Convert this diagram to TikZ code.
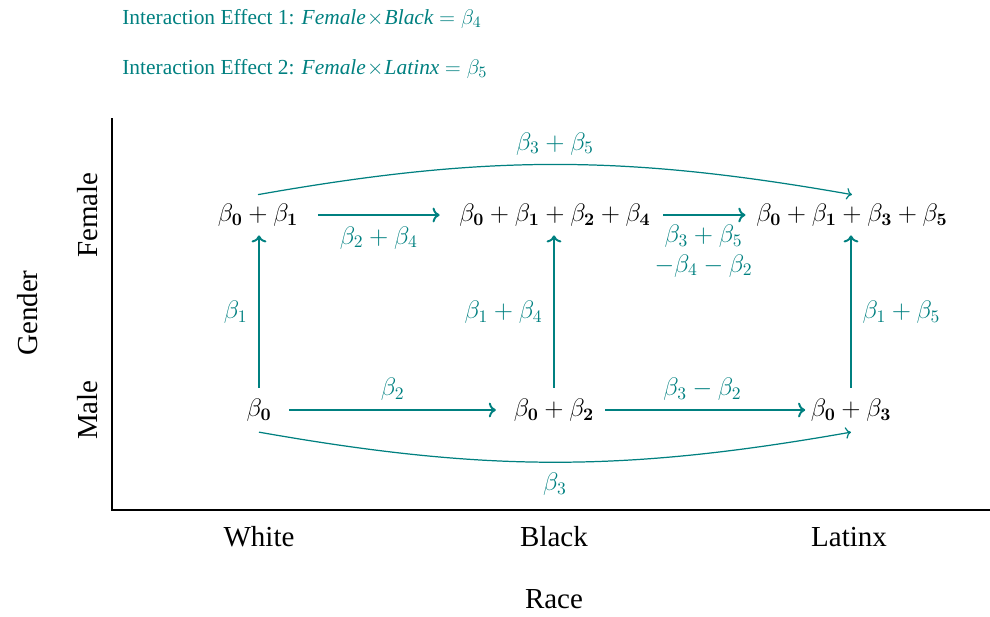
\documentclass[tikz,border=0pt]{standalone}
\usepackage[no-math]{fontspec}
\setmainfont{Liberation Serif}
\usepackage{amsmath}
\usetikzlibrary{arrows.meta}
\newcommand{\bcoef}[1]{\beta_{\mathbf{#1}}}

\begin{document}
\begin{tikzpicture}[x=0.02cm,y=-0.02cm,cell/.style={font=\fontsize{14}{16}\selectfont,inner sep=2pt},lbl/.style={text=teal,font=\fontsize{14.4}{17}\selectfont,inner sep=2pt},axlbl/.style={font=\fontsize{16.5}{19}\selectfont},hdr/.style={text=teal,font=\fontsize{12.2}{14}\selectfont,anchor=base west,inner sep=0pt},arr/.style={->,teal,line width=1.1pt},curv/.style={->,teal,line width=0.7pt}]
\useasboundingbox (0,0) rectangle (990,616);
% effect notes
\node[hdr] (note1) at (122,24) {Interaction Effect 1: \textit{Female}$\mkern1mu\times\mkern1mu$\textit{Black} $=\beta_4$};
\node[hdr] (note2) at (122,74) {Interaction Effect 2: \textit{Female}$\mkern1mu\times\mkern1mu$\textit{Latinx} $=\beta_5$};
% axes
\coordinate (ytop) at (112,118);
\coordinate (origin) at (112,510);
\coordinate (xend) at (990,510);
\draw[line width=0.6pt] (ytop)--(origin)--(xend);
\node[axlbl,rotate=90] (female) at (88,215) {Female};
\node[axlbl,rotate=90] (male) at (88,410) {Male};
\node[axlbl,rotate=90] (gender) at (28,313) {Gender};
\node[axlbl] (white) at (259,537) {White};
\node[axlbl] (black) at (554,537) {Black};
\node[axlbl] (latinx) at (849,537) {Latinx};
\node[axlbl] (race) at (554,599) {Race};
% cells
\node[cell] (fw) at (258,215) {$\bcoef0+\bcoef1$};
\node[cell] (fb) at (555,215) {$\bcoef0+\bcoef1+\bcoef2+\bcoef4$};
\node[cell] (fl) at (852,215) {$\bcoef0+\bcoef1+\bcoef3+\bcoef5$};
\node[cell] (mw) at (259,410) {$\bcoef0$};
\node[cell] (mb) at (554,410) {$\bcoef0+\bcoef2$};
\node[cell] (ml) at (851,410) {$\bcoef0+\bcoef3$};
% changes
\draw[arr,shorten <=9pt,shorten >=9pt] (fw)--(fb) node[midway,below=4pt,lbl] {$\beta_2+\beta_4$};
\draw[arr,shorten <=5pt,shorten >=4pt] (fb)--(fl) node[midway,below=3pt,lbl,align=center] {$\beta_3+\beta_5$\\[0pt]$-\beta_4-\beta_2$};
\draw[arr,shorten <=8pt,shorten >=8pt] (mw)--(mb) node[midway,above=3pt,lbl] {$\beta_2$};
\draw[arr,shorten <=4pt,shorten >=1pt] (mb)--(ml) node[midway,above=3pt,lbl] {$\beta_3-\beta_2$};
\draw[arr,shorten <=4pt,shorten >=3pt] (mw.north)--(mw.north|-fw.south) node[midway,left=4pt,lbl] {$\beta_1$};
\draw[arr,shorten <=4pt,shorten >=3pt] (mb.north)--(mb.north|-fb.south) node[midway,left=4pt,lbl] {$\beta_1+\beta_4$};
\draw[arr,shorten <=4pt,shorten >=3pt] (ml.north)--(ml.north|-fl.south) node[midway,right=4pt,lbl] {$\beta_1+\beta_5$};
\draw[curv] ([yshift=3pt]fw.north)to[bend left=10] node[midway,above=3pt,lbl] {$\beta_3+\beta_5$} ([yshift=3pt]fl.north);
\draw[curv] ([yshift=-4pt]mw.south)to[bend right=10] node[midway,below=4pt,lbl] {$\beta_3$} ([yshift=-4pt]ml.south);
\end{tikzpicture}
\end{document}
